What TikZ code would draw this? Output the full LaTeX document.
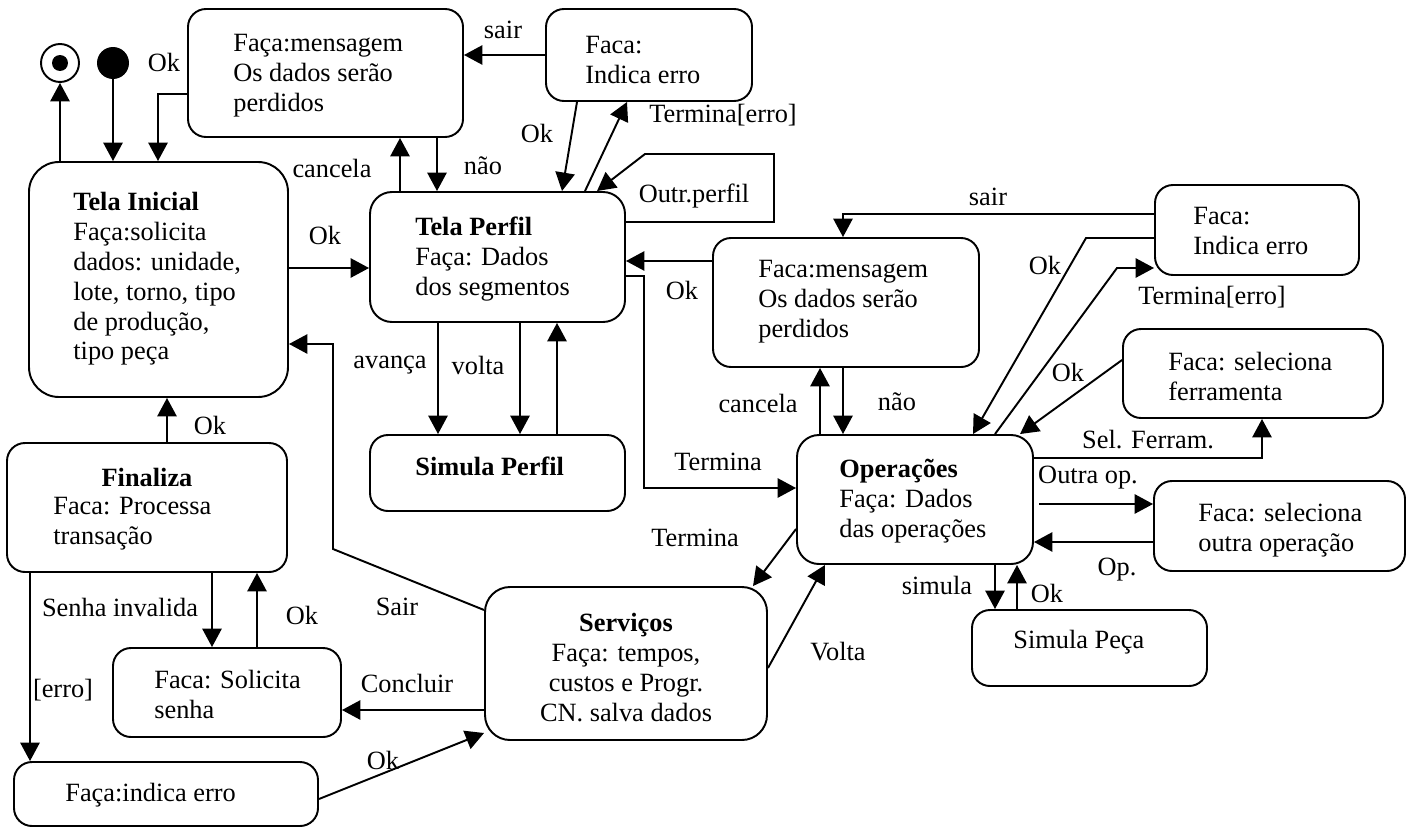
\documentclass[tikz,border=0pt]{standalone}
\usepackage{fontspec}
\setmainfont{Liberation Serif}
\usetikzlibrary{arrows.meta,fit}
\begin{document}
\begin{tikzpicture}[x=0.02cm,y=-0.02cm,
  every node/.style={font=\fontsize{15}{17}\selectfont},
  ln/.style={line width=1.1pt},
  arr/.style={ln,-{Triangle[length=10.5pt,width=11pt]}},
  box/.style={draw,ln,rounded corners=0.36cm,inner sep=0pt},
  txt/.style={anchor=north west,inner sep=0pt,align=left},
  lbl/.style={inner sep=0pt}]
\useasboundingbox (0,0) rectangle (1412,828);

% states
\node[circle,draw,ln,minimum size=0.76cm,inner sep=0pt] (fs) at (60,63) {};
\fill (fs.center) circle[radius=0.16cm];
\node[circle,fill,minimum size=0.64cm,inner sep=0pt] (ini) at (113,63) {};

\node[box,fit={(188,9) (463,137)}] (m1) {};
\node[box,fit={(546,9) (752,101)}] (e1) {};
\node[box,rounded corners=0.6cm,fit={(29,162) (288,397)}] (ti) {};
\node[box,rounded corners=0.44cm,fit={(370,192) (625,322)}] (tp) {};
\node[box,fit={(370,435) (625,511)}] (sp) {};
\node[box,fit={(7,443) (287,572)}] (fz) {};
\node[box,fit={(113,648) (341,737)}] (ss) {};
\node[box,fit={(14,762) (318,826)}] (ie) {};
\node[box,rounded corners=0.5cm,fit={(485,587) (767,740)}] (sv) {};
\node[box,rounded corners=0.44cm,fit={(797,435) (1033,564)}] (op) {};
\node[box,fit={(713,238) (979,367)}] (m2) {};
\node[box,fit={(1155,185) (1359,275)}] (e2) {};
\node[box,fit={(1123,329) (1383,418)}] (sf) {};
\node[box,fit={(1154,481) (1405,571)}] (so) {};
\node[box,fit={(972,610) (1207,686)}] (spc) {};

% texts
\node[txt] at (233,34) {Faça:mensagem\\Os dados serão\\perdidos};
\node[txt] at (585,36) {Faca:\\Indica erro};
\node[txt] at (73,192) {\textbf{Tela Inicial}\\Faça:solicita\\dados: unidade,\\lote, torno, tipo\\de produção,\\tipo peça};
\node[txt] at (415,217) {\textbf{Tela Perfil}\\Faça: Dados\\dos segmentos};
\node[txt] at (415,457) {\textbf{Simula Perfil}};
\node[lbl] at (147,477) {\textbf{Finaliza}};
\node[txt] at (53,497) {Faca: Processa\\transação};
\node[txt] at (154,670) {Faca: Solicita\\senha};
\node[txt] at (65,783) {Faça:indica erro};
\node[anchor=north,align=center,inner sep=0pt] at (626,613) {\textbf{Serviços}\\Faça: tempos,\\custos e Progr.\\CN. salva dados};
\node[txt] at (839,459) {\textbf{Operações}\\Faça: Dados\\das operações};
\node[txt] at (758,260) {Faca:mensagem\\Os dados serão\\perdidos};
\node[txt] at (1193,207) {Faca:\\Indica erro};
\node[txt] at (1168,352) {Faca: seleciona\\ferramenta};
\node[txt] at (1198,503) {Faca: seleciona\\outra operação};
\node[txt] at (1013,630) {Simula Peça};

% connectors
\draw[arr] (ti.north -| fs) -- (fs.south);
\draw[arr] (ini.south) -- (ti.north -| ini);
\draw[arr] (m1.west |- 0,94) -| (ti.north -| 158,0);
\draw[arr] (e1.west |- 0,55) -- (m1.east |- 0,55);
\draw[arr] (tp.north -| 400,0) -- (m1.south -| 400,0);
\draw[arr] (m1.south -| 437,0) -- (tp.north -| 437,0);
\draw[arr] (e1.south -| 577,0) -- (tp.north -| 562,0);
\draw[arr] (tp.north -| 585,0) -- (e1.south -| 627,0);
\draw[arr] (tp.east |- 0,222) -- (774,222) -- (774,154) -- (645,154) -- (tp.north -| 597,0);
\draw[arr] (ti.east |- 0,268) -- (tp.west |- 0,268);
\draw[arr] (tp.south -| 438,0) -- (sp.north -| 438,0);
\draw[arr] (tp.south -| 520,0) -- (sp.north -| 520,0);
\draw[arr] (sp.north -| 557,0) -- (tp.south -| 557,0);
\draw[arr] (fz.north -| 167,0) -- (ti.south -| 167,0);
\draw[arr] (fz.south -| 212,0) -- (ss.north -| 212,0);
\draw[arr] (ss.north -| 257,0) -- (fz.south -| 257,0);
\draw[arr] (fz.south -| 30,0) -- (ie.north -| 30,0);
\draw[arr] (ie.east |- 0,799) -- (sv.west |- 0,733);
\draw[arr] (sv.west |- 0,710) -- (ss.east |- 0,710);
\draw[arr] (sv.west |- 0,610) -- (333,549) -- (333,344) -- (ti.east |- 0,344);
\draw[arr] (tp.east |- 0,276) -- (644,276) -- (644,488) -- (op.west |- 0,488);
\draw[arr] (op.west |- 0,529) -- (sv.north -| 753,0);
\draw[arr] (sv.east |- 0,668) -- (op.south -| 825,0);
\draw[arr] (m2.west |- 0,261) -- (tp.east |- 0,261);
\draw[arr] (op.north -| 820,0) -- (m2.south -| 820,0);
\draw[arr] (m2.south -| 843,0) -- (op.north -| 843,0);
\draw[arr] (e2.west |- 0,214) -| (m2.north -| 843,0);
\draw[arr] (e2.west |- 0,238) -- (1086,238) -- (op.north -| 973,0);
\draw[arr] (op.north -| 995,0) -- (1117,268) -- (e2.west |- 0,268);
\draw[arr] (sf.west |- 0,360) -- (op.north -| 1020,0);
\draw[arr] (op.east |- 0,458) -| (sf.south -| 1262,0);
\coordinate (oostart) at (1039,504);
\draw[arr] (oostart) -- (so.west |- 0,504);
\draw[arr] (so.west |- 0,542) -- (op.east |- 0,542);
\draw[arr] (op.south -| 995,0) -- (spc.north -| 995,0);
\draw[arr] (spc.north -| 1017,0) -- (op.south -| 1017,0);

% labels
\node[lbl] at (164,62) {Ok};
\node[lbl] at (503,30) {sair};
\node[lbl] at (332,168) {cancela};
\node[lbl] at (483,166) {não};
\node[lbl] at (537,133) {Ok};
\node[lbl] at (723,115) {Termina[erro]};
\node[lbl] at (694,196) {Outr.perfil};
\node[lbl] at (325,235) {Ok};
\node[lbl] at (390,365) {avança};
\node[lbl] at (478,365) {volta};
\node[lbl] at (210,425) {Ok};
\node[lbl] at (120,607) {Senha invalida};
\node[lbl] at (302,615) {Ok};
\node[lbl] at (63,690) {[erro]};
\node[lbl] at (407,683) {Concluir};
\node[lbl] at (397,607) {Sair};
\node[lbl] at (383,760) {Ok};
\node[lbl] at (718,462) {Termina};
\node[lbl] at (695,538) {Termina};
\node[lbl] at (838,652) {Volta};
\node[lbl] at (682,290) {Ok};
\node[lbl] at (758,403) {cancela};
\node[lbl] at (897,402) {não};
\node[lbl] at (988,197) {sair};
\node[lbl] at (1045,265) {Ok};
\node[lbl] at (1212,297) {Termina[erro]};
\node[lbl] at (1068,372) {Ok};
\node[lbl] at (1148,440) {Sel. Ferram.};
\node[lbl] at (1088,478) {Outra op.};
\node[lbl] at (1117,570) {Op.};
\node[lbl] at (937,585) {simula};
\node[lbl] at (1047,593) {Ok};
\end{tikzpicture}
\end{document}
